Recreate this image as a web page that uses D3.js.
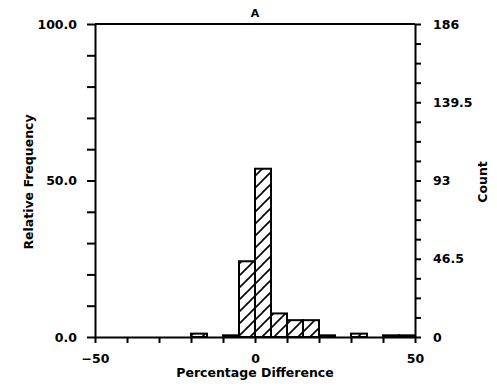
<!DOCTYPE html>
<html>
<head>
<meta charset="utf-8">
<script src="https://cdn.jsdelivr.net/npm/d3@7"></script>
<style>
  body { margin: 0; background: #fff; }
  text { font-family: "DejaVu Sans", sans-serif; font-weight: bold; fill: #000; }
</style>
</head>
<body>
<div class="chart"></div>
<script>
// histogram bins (percentage difference, width 5) and their counts
var binStart = [-20, -15, -10, -5, 0, 5, 10, 15, 20, 25, 30, 35, 40, 45];
var binCount = [2, 0, 1, 45, 100, 14, 10, 10, 1, 0, 2, 0, 1, 1];
var totalCount = 186;
var binWidth = 5;

var xTicks = [-50, -40, -30, -20, -10, 0, 10, 20, 30, 40, 50];
var xLabels = [-50, 0, 50];
var leftTicks = [0, 10, 20, 30, 40, 50, 60, 70, 80, 90, 100];
var leftLabels = [0, 50, 100];
var rightLabels = [0, 46.5, 93, 139.5, 186];

var svgWidth = 497;
var svgHeight = 390;
var margin = { top: 24, right: 82, bottom: 53, left: 95 };
var width = svgWidth - margin.left - margin.right;
var height = svgHeight - margin.top - margin.bottom;
var fontSize = "12.5px";

var svg = d3.select(".chart")
    .append("svg")
    .attr("width", svgWidth)
    .attr("height", svgHeight);

// hatch pattern
var defs = svg.append("defs");
var pat = defs.append("pattern")
    .attr("id", "hatch")
    .attr("patternUnits", "userSpaceOnUse")
    .attr("width", 12)
    .attr("height", 12);
pat.append("rect").attr("width", 12).attr("height", 12).attr("fill", "#fff");
pat.append("path")
    .attr("d", "M-3,15 L15,-3 M-3,3 L3,-3 M9,15 L15,9")
    .attr("stroke", "#000")
    .attr("stroke-width", 1.6);

var g = svg.append("g")
    .attr("transform", `translate(${margin.left}, ${margin.top})`);

var x = d3.scaleLinear().domain([-50, 50]).range([0, width]);
var yPct = d3.scaleLinear().domain([0, 100]).range([height, 0]);
var yCount = d3.scaleLinear().domain([0, totalCount]).range([height, 0]);

var bins = binStart.map(function(s, i) {
    return { x0: s, x1: s + binWidth, pct: binCount[i] / totalCount * 100 };
});

// bars
g.selectAll("rect.bar")
    .data(bins.filter(d => d.pct > 0))
    .enter()
    .append("rect")
    .attr("class", "bar")
    .attr("x", d => x(d.x0))
    .attr("y", d => yPct(d.pct))
    .attr("width", d => x(d.x1) - x(d.x0))
    .attr("height", d => yPct(0) - yPct(d.pct))
    .attr("fill", "url(#hatch)")
    .attr("stroke", "#000")
    .attr("stroke-width", 2);

// axes
var bottomAxis = d3.axisBottom(x)
    .tickValues(xTicks)
    .tickSizeInner(6)
    .tickSizeOuter(0)
    .tickPadding(11)
    .tickFormat(d => xLabels.indexOf(d) >= 0 ? (d < 0 ? "\u2212" + Math.abs(d) : d) : "");

var leftAxis = d3.axisLeft(yPct)
    .tickValues(leftTicks)
    .tickSizeInner(8)
    .tickSizeOuter(0)
    .tickPadding(10)
    .tickFormat(d => leftLabels.indexOf(d) >= 0 ? d3.format(".1f")(d) : "");

var rightTicks = d3.range(0, 17).map(i => i * totalCount / 16);
var rightAxis = d3.axisRight(yCount)
    .tickValues(rightTicks)
    .tickSizeInner(6)
    .tickSizeOuter(0)
    .tickPadding(12)
    .tickFormat(d => rightLabels.some(v => Math.abs(v - d) < 0.01) ? d3.format("~g")(d) : "");

function styleAxis(sel) {
    sel.select(".domain").attr("stroke", "#000").attr("stroke-width", 2);
    sel.selectAll(".tick line").attr("stroke", "#000").attr("stroke-width", 2);
    sel.selectAll(".tick text").style("font-size", fontSize);
}

g.append("g")
    .attr("transform", `translate(0, ${height})`)
    .call(bottomAxis)
    .call(styleAxis);

g.append("g")
    .call(leftAxis)
    .call(styleAxis);

g.append("g")
    .attr("transform", `translate(${width}, 0)`)
    .call(rightAxis)
    .call(styleAxis);

// top frame line
g.append("line")
    .attr("x1", 0).attr("x2", width)
    .attr("y1", 0).attr("y2", 0)
    .attr("stroke", "#000")
    .attr("stroke-width", 2);

// labels
g.append("text")
    .attr("x", width / 2)
    .attr("y", -7)
    .attr("text-anchor", "middle")
    .style("font-size", "11px")
    .text("A");

g.append("text")
    .attr("x", width / 2)
    .attr("y", height + 40)
    .attr("text-anchor", "middle")
    .style("font-size", fontSize)
    .text("Percentage Difference");

g.append("text")
    .attr("transform", `translate(${33 - margin.left}, ${182 - margin.top}) rotate(-90)`)
    .attr("text-anchor", "middle")
    .style("font-size", fontSize)
    .text("Relative Frequency");

g.append("text")
    .attr("transform", `translate(${487 - margin.left}, ${182 - margin.top}) rotate(-90)`)
    .attr("text-anchor", "middle")
    .style("font-size", fontSize)
    .text("Count");
</script>
</body>
</html>
